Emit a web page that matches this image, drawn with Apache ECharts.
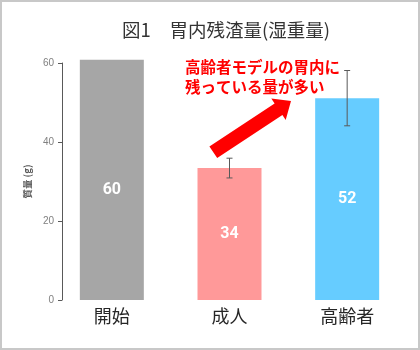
<!DOCTYPE html>
<html><head><meta charset="utf-8">
<script src="https://cdn.jsdelivr.net/npm/echarts@6/dist/echarts.min.js"></script>
<style>html,body{margin:0;padding:0;background:#fff}#c{width:420px;height:350px}</style>
</head><body><div id="c"></div>
<script>
const categories = ['開始', '成人', '高齢者'];
const values = [60.8, 33.4, 51.1];
const valueLabels = ['60', '34', '52'];
const errLow = [null, 30.9, 44.1];
const errHigh = [null, 35.9, 58.1];
const yTicks = [0, 20, 40, 60];
const colors = ['#A6A6A6', '#FF9999', '#66CCFF'];
const titleText = '図1　胃内残渣量(湿重量)';
const yName = '質量 (g)';
const noteLines = ['高齢者モデルの胃内に', '残っている量が多い'];

const cjk = "'Noto Sans CJK JP', 'Noto Sans', sans-serif";
const chart = echarts.init(document.getElementById('c'));

const barData = values.map((v, i) => {
  const item = { value: v, itemStyle: { color: colors[i] } };
  if (i === 0) item.label = { offset: [0, 10] };
  return item;
});
const errData = categories.map((c, i) => [i, errLow[i], errHigh[i]]).filter(d => d[1] != null);

chart.setOption({
  animation: false,
  title: {
    text: titleText, left: 221, top: 16, textAlign: 'center',
    textStyle: { fontFamily: cjk, fontSize: 18.5, fontWeight: 'normal', color: '#333' }
  },
  grid: { left: 53, right: 14, top: 63, bottom: 50 },
  xAxis: {
    type: 'category', data: categories,
    axisLine: { show: false }, axisTick: { show: false },
    axisLabel: { fontFamily: cjk, fontSize: 18, color: '#262626', margin: 7 }
  },
  yAxis: {
    type: 'value', min: yTicks[0], max: yTicks[yTicks.length - 1], interval: 20,
    offset: -9,
    name: yName, nameLocation: 'middle', nameGap: 30, nameRotate: 90,
    nameTextStyle: { fontFamily: cjk, fontSize: 9.5, fontWeight: 'bold', color: '#595959' },
    axisLine: { show: true, lineStyle: { color: '#595959', width: 1 } },
    axisTick: { show: true, length: 4, lineStyle: { color: '#595959' } },
    axisLabel: { fontFamily: "'Liberation Sans', Arial, sans-serif", fontSize: 10, color: '#808080', margin: 8 },
    splitLine: { show: false }
  },
  series: [
    {
      type: 'bar', data: barData, barWidth: 64, clip: false,
      label: {
        show: true, position: 'inside', color: '#fff', fontSize: 16, fontWeight: 'bold',
        fontFamily: "Roboto, 'Liberation Sans', sans-serif",
        formatter: p => valueLabels[p.dataIndex]
      }
    },
    {
      type: 'custom', data: errData, z: 5,
      renderItem: (params, api) => {
        const x = api.value(0);
        const lo = api.coord([x, api.value(1)]);
        const hi = api.coord([x, api.value(2)]);
        const w = 3;
        const st = { stroke: '#595959', lineWidth: 1 };
        return {
          type: 'group', children: [
            { type: 'line', shape: { x1: lo[0], y1: lo[1], x2: hi[0], y2: hi[1] }, style: st },
            { type: 'line', shape: { x1: lo[0] - w, y1: lo[1], x2: lo[0] + w, y2: lo[1] }, style: st },
            { type: 'line', shape: { x1: hi[0] - w, y1: hi[1], x2: hi[0] + w, y2: hi[1] }, style: st }
          ]
        };
      }
    }
  ],
  graphic: [
    { type: 'rect', shape: { x: 1, y: 1, width: 418, height: 348 }, style: { fill: 'none', stroke: '#c8c8c8', lineWidth: 2 }, silent: true },
    {
      type: 'polygon', z: 10,
      shape: { points: [[217.2, 158.0], [282.4, 115.1], [285.7, 120.1], [291, 101], [271.3, 98.5], [274.6, 103.5], [209.4, 146.4]] },
      style: { fill: '#FF0000' }
    },
    {
      type: 'text', left: 185, top: 57, z: 10,
      style: { text: noteLines.join('\n'), fill: '#FF0000', font: "bold 15.5px 'Noto Sans CJK JP'", lineHeight: 20 }
    }
  ]
});
</script></body></html>
